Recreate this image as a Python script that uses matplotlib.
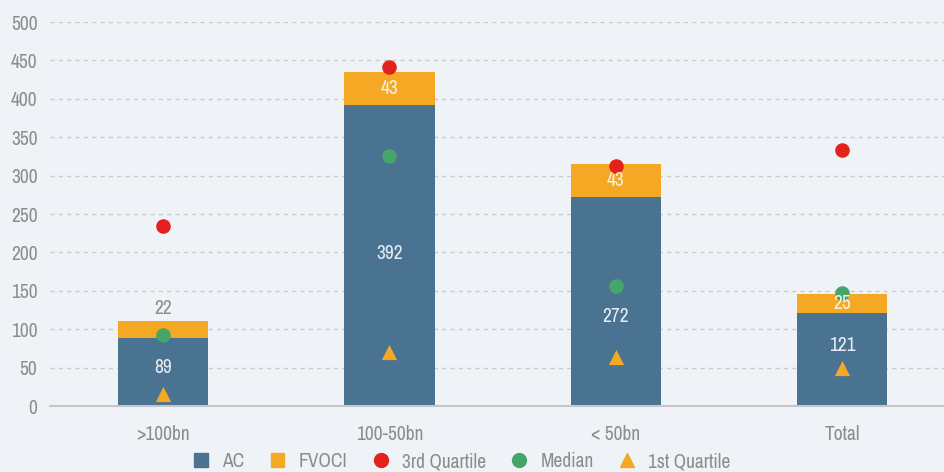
import matplotlib
matplotlib.use("Agg")
import matplotlib.pyplot as plt
from matplotlib import font_manager
from matplotlib.lines import Line2D
from matplotlib.patches import Patch
import numpy as np

categories = [">100bn", "100-50bn", "< 50bn", "Total"]
ac = [89, 392, 272, 121]
fvoci = [22, 43, 43, 25]
q3 = [234, 441, 312, 333]
median = [92, 325, 156, 147]
q1 = [16, 70, 64, 49]

BG = "#eff3f8"
C_AC = "#4a7391"
C_FV = "#f5a823"
C_Q3 = "#e4211a"
C_MED = "#46a56a"
C_Q1 = "#f5a823"
GREY = "#8c8c8c"

# look for a condensed face; fall back to DejaVu Sans
names = sorted({(f.name, f.stretch) for f in font_manager.fontManager.ttflist})
condensed = [n for n, st in names
             if "Narrow" in n or "Condensed" in n
             or st in ("condensed", "semi-condensed", "extra-condensed")]
FS = 14 if condensed else 11.5
plt.rcParams["font.family"] = (condensed[:1] or []) + ["DejaVu Sans"]
if not condensed:
    plt.rcParams["font.stretch"] = "condensed"

fig = plt.figure(figsize=(9.44, 4.72), dpi=100, facecolor=BG)
ax = fig.add_axes([50 / 944, 66 / 472, 894 / 944, 384 / 472], facecolor=BG)

x = np.arange(len(categories))
w = 0.4
ax.bar(x, ac, w, color=C_AC, zorder=2)
ax.bar(x, fvoci, w, bottom=ac, color=C_FV, zorder=2)

ax.scatter(x, q3, s=110, color=C_Q3, zorder=4, linewidths=0)
ax.scatter(x, median, s=110, color=C_MED, zorder=4, linewidths=0)
ax.scatter(x, q1, s=120, marker="^", color=C_Q1, zorder=4, linewidths=0)

# value labels; AC labels nudged off the markers like the original
ac_nudge = [5, 3, -20, 18]
for i in range(len(categories)):
    ax.text(x[i], ac[i] / 2 + ac_nudge[i], str(ac[i]), ha="center", va="center",
            color="#e8edf3", fontsize=FS, zorder=5)
    if i == 0:
        # small segment: label sits above the bar
        ax.text(x[i], ac[i] + fvoci[i] + 3, str(fvoci[i]), ha="center",
                va="bottom", color=GREY, fontsize=FS, zorder=5)
    else:
        ax.text(x[i], ac[i] + fvoci[i] / 2, str(fvoci[i]), ha="center",
                va="center", color="#f7f1e4", fontsize=FS, zorder=5)

ax.set_ylim(0, 500)
ax.set_xlim(-0.5, 3.45)
ax.set_yticks(np.arange(0, 501, 50))
ax.set_xticks(x)
ax.set_xticklabels(categories)
ax.tick_params(axis="both", length=0, colors=GREY, labelsize=FS)
ax.tick_params(axis="x", pad=14)
ax.tick_params(axis="y", pad=9)
ax.grid(axis="y", color="#c9cbcf", linestyle=(0, (3, 3)), linewidth=1, zorder=0)
for s in ["top", "right", "left"]:
    ax.spines[s].set_visible(False)
ax.spines["bottom"].set_color("#c4c6ca")
ax.spines["bottom"].set_linewidth(1.5)
ax.spines["bottom"].set_zorder(3)

handles = [
    Patch(color=C_AC, label="AC"),
    Patch(color=C_FV, label="FVOCI"),
    Line2D([], [], marker="o", linestyle="", color=C_Q3, markersize=10, label="3rd Quartile"),
    Line2D([], [], marker="o", linestyle="", color=C_MED, markersize=10, label="Median"),
    Line2D([], [], marker="^", linestyle="", color=C_Q1, markersize=10, label="1st Quartile"),
]
fig.legend(handles=handles, loc="lower center", bbox_to_anchor=(0.49, -0.035),
           ncol=5, frameon=False, fontsize=FS, handlelength=0.7, handleheight=0.7,
           columnspacing=1.35, handletextpad=0.75, labelcolor=GREY)

fig.savefig("out.png", dpi=100, facecolor=BG)
